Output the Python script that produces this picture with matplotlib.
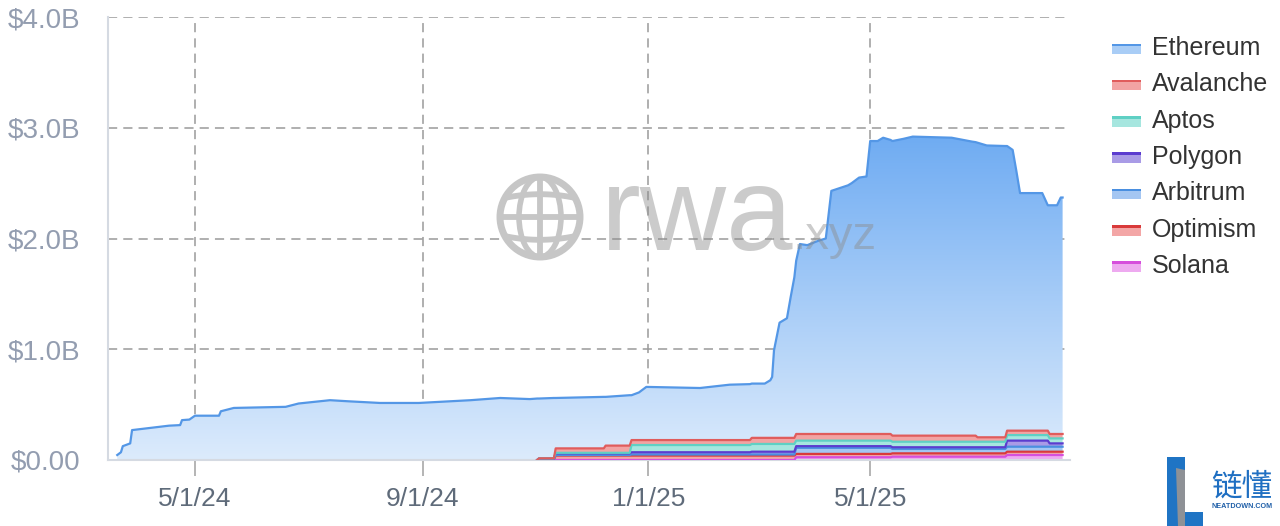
import numpy as np
import matplotlib
matplotlib.use("Agg")
import matplotlib.pyplot as plt
import matplotlib.dates as mdates
from matplotlib.patches import Rectangle, Polygon, Circle, Ellipse
from matplotlib.ticker import FuncFormatter, FixedLocator

plt.rcParams['font.family'] = ['Liberation Sans', 'DejaVu Sans']

W, H = 1280, 526

# Ethereum tokenized value, $B
eth_dates = ["2024-03-20", "2024-03-22", "2024-03-23", "2024-03-27", "2024-03-28", "2024-04-17",
             "2024-04-23", "2024-04-24", "2024-04-28", "2024-05-01", "2024-05-14", "2024-05-15",
             "2024-05-22", "2024-06-19", "2024-06-26", "2024-07-13", "2024-07-23", "2024-08-09",
             "2024-08-30", "2024-09-27", "2024-10-13", "2024-10-29", "2024-11-02", "2024-11-03",
             "2024-11-11", "2024-11-12", "2024-12-08", "2024-12-09", "2024-12-22", "2024-12-23",
             "2024-12-27", "2024-12-31", "2025-01-29", "2025-02-14", "2025-02-25", "2025-02-26",
             "2025-03-05", "2025-03-08", "2025-03-09", "2025-03-10", "2025-03-13", "2025-03-17",
             "2025-03-19", "2025-03-21", "2025-03-22", "2025-03-24", "2025-03-28", "2025-04-03",
             "2025-04-07", "2025-04-10", "2025-04-19", "2025-04-21", "2025-04-25", "2025-04-29",
             "2025-05-01", "2025-05-05", "2025-05-08", "2025-05-12", "2025-05-13", "2025-05-19",
             "2025-05-24", "2025-06-14", "2025-06-25", "2025-06-27", "2025-06-28", "2025-07-03",
             "2025-07-13", "2025-07-14", "2025-07-17", "2025-07-19", "2025-07-21", "2025-08-02",
             "2025-08-05", "2025-08-06", "2025-08-10", "2025-08-12", "2025-08-13"]
ethereum = [0.045, 0.07, 0.125, 0.15, 0.27, 0.31,
            0.315, 0.36, 0.365, 0.40, 0.40, 0.44,
            0.47, 0.48, 0.51, 0.54, 0.53, 0.515,
            0.515, 0.54, 0.56, 0.55, 0.555, 0.54,
            0.545, 0.455, 0.465, 0.44, 0.455, 0.405,
            0.43, 0.48, 0.47, 0.50, 0.505, 0.49,
            0.49, 0.52, 0.55, 0.79, 1.04, 1.08,
            1.27, 1.45, 1.565, 1.715, 1.705, 1.745,
            1.765, 2.195, 2.245, 2.265, 2.315, 2.325,
            2.645, 2.645, 2.675, 2.655, 2.66, 2.68,
            2.70, 2.69, 2.655, 2.65, 2.66, 2.635,
            2.63, 2.57, 2.535, 2.345, 2.145, 2.145,
            2.035, 2.065, 2.065, 2.135, 2.135]

# other chains, step values from each change date, $B
chain_dates = ["2024-11-03", "2024-11-12", "2024-12-09", "2024-12-23", "2025-02-26",
               "2025-03-22", "2025-05-13", "2025-06-28", "2025-07-14", "2025-08-06"]
avalanche = [0.0, 0.04, 0.065, 0.045, 0.055, 0.06, 0.055, 0.04, 0.04, 0.04]
aptos = [0.0, 0.005, 0.005, 0.065, 0.07, 0.05, 0.05, 0.05, 0.05, 0.045]
polygon = [0.01, 0.015, 0.015, 0.02, 0.025, 0.015, 0.015, 0.015, 0.055, 0.03]
arbitrum = [0.0, 0.005, 0.005, 0.01, 0.01, 0.055, 0.04, 0.04, 0.045, 0.045]
optimism = [0.005, 0.04, 0.04, 0.04, 0.04, 0.03, 0.03, 0.03, 0.03, 0.03]
solana = [0.0, 0.0, 0.0, 0.0, 0.0, 0.025, 0.03, 0.03, 0.045, 0.045]

legend_names = ["Ethereum", "Avalanche", "Aptos", "Polygon", "Arbitrum", "Optimism", "Solana"]
line_colors = {"Ethereum": "#5497e6", "Avalanche": "#e05c5c", "Aptos": "#5fd0c4",
               "Polygon": "#5b3ccf", "Arbitrum": "#4a8fe0", "Optimism": "#d93a3a",
               "Solana": "#d64fdc"}
fill_colors = {"Ethereum": "#a9cdf6", "Avalanche": "#f2a3a3", "Aptos": "#a6e6df",
               "Polygon": "#a99be6", "Arbitrum": "#a4c6f2", "Optimism": "#f3a6a6",
               "Solana": "#eeaaf0"}

x = mdates.datestr2num(eth_dates)
cx = mdates.datestr2num(chain_dates)
idx = np.searchsorted(cx, x, side="right") - 1


def hold(vals):
    v = np.asarray(vals)
    return np.where(idx >= 0, v[np.clip(idx, 0, None)], 0.0)


fig = plt.figure(figsize=(W / 100, H / 100), dpi=100)
ax = fig.add_axes([108 / W, 1 - 460 / H, (1070 - 108) / W, (460 - 17) / H])

x0 = mdates.datestr2num("2024-03-15")
x1 = mdates.datestr2num("2025-08-17")

stack = [("Solana", solana), ("Optimism", optimism), ("Arbitrum", arbitrum),
         ("Polygon", polygon), ("Aptos", aptos), ("Avalanche", avalanche)]
show = x >= mdates.datestr2num("2024-11-02")
base = np.zeros_like(x)
tops = []
for name, vals in stack:
    top = base + hold(vals)
    ax.fill_between(x, base, top, facecolor=fill_colors[name], lw=0, zorder=2)
    tops.append((name, top))
    base = top

# Ethereum with a vertical gradient fill
eth_top = base + np.asarray(ethereum)
poly = ax.fill_between(x, base, eth_top, facecolor="none", lw=0, zorder=2)
c_top = np.array([108, 170, 242]) / 255
c_bot = np.array([220, 235, 252]) / 255
t = np.linspace(0, 1, 256)[:, None]
grad = (c_bot + (c_top - c_bot) * t)[:, None, :]
im = ax.imshow(grad, extent=[x0, x1, 0, 3.0], origin="lower", aspect="auto", zorder=2)
im.set_clip_path(poly.get_paths()[0], ax.transData)

for name, top in tops:
    ax.plot(x[show], top[show], color=line_colors[name], lw=1.6, zorder=4)
ax.plot(x, eth_top, color=line_colors["Ethereum"], lw=1.6, zorder=4)

ax.set_xlim(x0, x1)
ax.set_ylim(0, 4.0)

ax.xaxis.set_major_locator(mdates.MonthLocator(bymonth=[1, 5, 9]))
ax.xaxis.set_major_formatter(FuncFormatter(
    lambda v, p: f"{mdates.num2date(v).month}/{mdates.num2date(v).day}/{mdates.num2date(v).strftime('%y')}"))
ax.yaxis.set_major_locator(FixedLocator([0, 1, 2, 3, 4]))
ax.yaxis.set_major_formatter(FuncFormatter(lambda v, p: "$0.00" if v == 0 else f"${v:.1f}B"))

ax.grid(True, color="#9a9a9a", lw=1.1, linestyle=(0, (6, 4)), zorder=1)
ax.set_axisbelow(True)
ax.tick_params(axis="x", length=11.5, width=1.2, color="#a8a8a8", pad=8,
               labelsize=19, labelcolor="#5f6b7a")
ax.tick_params(axis="y", length=0, pad=20, labelsize=20, labelcolor="#939db0")
for s in ("top", "right"):
    ax.spines[s].set_visible(False)
for s in ("left", "bottom"):
    ax.spines[s].set_color("#d5dae2")
    ax.spines[s].set_linewidth(1.5)

# legend
for i, name in enumerate(legend_names):
    yc = 49 + i * 36.3
    fig.add_artist(Rectangle((1112 / W, 1 - (yc + 5) / H), 29 / W, 10 / H,
                             transform=fig.transFigure, facecolor=fill_colors[name], lw=0))
    fig.add_artist(Rectangle((1112 / W, 1 - (yc - 3) / H), 29 / W, 2.5 / H,
                             transform=fig.transFigure, facecolor=line_colors[name], lw=0))
    fig.text(1152 / W, 1 - (yc + 6) / H, name, fontsize=18, color="#333333",
             va="baseline", ha="left")

# rwa.xyz watermark
fig.text(601 / W, 1 - 250 / H, "rwa", fontsize=86, color="#8c8c8c", alpha=0.45,
         va="baseline", ha="left", zorder=10)
fig.text(793 / W, 1 - 249 / H, ".xyz", fontsize=34, color="#8c8c8c", alpha=0.45,
         va="baseline", ha="left", zorder=10)
gx = fig.add_axes([(540 - 48) / W, 1 - (217 + 48) / H, 96 / W, 96 / H], zorder=5)
gx.set_xlim(-1.2, 1.2)
gx.set_ylim(-1.2, 1.2)
gx.axis("off")
gcol = dict(color="#c6c6c6", lw=4.2)
gx.add_patch(Circle((0, 0), 1.0, fill=False, ec=gcol["color"], lw=5))
gx.add_patch(Ellipse((0, 0), 1.05, 2.0, fill=False, ec=gcol["color"], lw=4))
gx.plot([0, 0], [-1, 1], **gcol)
gx.plot([-1, 1], [0, 0], **gcol)
u = np.linspace(-0.82, 0.82, 50)
gx.plot(u, 0.57 - 0.12 * u ** 2, **gcol)
gx.plot(u, -0.57 + 0.12 * u ** 2, **gcol)

# neatdown logo
def px(pts):
    return [(a / W, 1 - b / H) for a, b in pts]

fig.add_artist(Polygon(px([(1167, 457), (1185, 457), (1185, 512), (1203, 512),
                           (1203, 526), (1167, 526)]),
                       closed=True, transform=fig.transFigure, facecolor="#1f74c4", lw=0))
fig.add_artist(Polygon(px([(1176, 468), (1185, 470), (1185, 526), (1178, 526)]),
                       closed=True, transform=fig.transFigure, facecolor="#8e9196", lw=0))
fig.text(1211 / W, 1 - 496 / H, "链懂", fontsize=22, color="#1f6fc2",
         family=["Noto Sans CJK SC", "DejaVu Sans"], va="baseline", ha="left")
fig.text(1212 / W, 1 - 508 / H, "NEATDOWN.COM", fontsize=5.2, color="#1f5fa8",
         weight="bold", va="baseline", ha="left")

fig.savefig("out.png", dpi=100)
